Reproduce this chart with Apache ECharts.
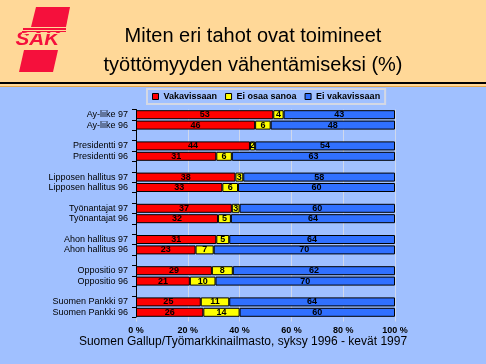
<!DOCTYPE html>
<html><head><meta charset="utf-8">
<script src="https://cdn.jsdelivr.net/npm/echarts@6/dist/echarts.min.js"></script>
<style>html,body{margin:0;padding:0;}#c{width:486px;height:364px;}</style>
</head><body><div id="c"></div>
<script>
const categories = ['Ay-liike 97','Ay-liike 96','Presidentti 97','Presidentti 96','Lipposen hallitus 97','Lipposen hallitus 96','Työnantajat 97','Työnantajat 96','Ahon hallitus 97','Ahon hallitus 96','Oppositio 97','Oppositio 96','Suomen Pankki 97','Suomen Pankki 96'];
const vakavissaan   = [53,46,44,31,38,33,37,32,31,23,29,21,25,26];
const eiOsaaSanoa   = [4,6,2,6,3,6,3,5,5,7,8,10,11,14];
const eiVakavissaan = [43,48,54,63,58,60,60,64,64,70,62,70,64,60];
const seriesNames = ['Vakavissaan','Ei osaa sanoa','Ei vakavissaan'];
const xTicks = [0,20,40,60,80,100];
const title1 = 'Miten eri tahot ovat toimineet';
const title2 = 'työttömyyden vähentämiseksi (%)';
const source = 'Suomen Gallup/Työmarkkinailmasto, syksy 1996 - kevät 1997';

// axis with a blank separator after each pair
const axisCats = [];
const rowIndex = [];
categories.forEach((c,i)=>{
  axisCats.push(c); rowIndex.push(i);
  if (i%2===1 && i<categories.length-1){ axisCats.push(''); rowIndex.push(-1); }
});
const raw = [vakavissaan, eiOsaaSanoa, eiVakavissaan];
const sums = categories.map((_,i)=>raw[0][i]+raw[1][i]+raw[2][i]);
const colors = ['#FF0000','#FFFF00','#3070FF'];
const font = 'Liberation Sans, Arial, sans-serif';

const series = raw.map((arr,s)=>({
  name: seriesNames[s], type:'bar', stack:'t', barWidth:9,
  itemStyle:{color:colors[s], borderColor:'#000', borderWidth:1},
  label:{show:true, position:'inside', color:'#000', fontFamily:font, fontSize:9, fontWeight:'bold',
    formatter:p=>p.data && p.data.raw!=null ? String(p.data.raw) : ''},
  data: rowIndex.map(r=> r<0 ? {value:'-'} : {value: arr[r]/sums[r]*100, raw: arr[r]})
}));

const chart = echarts.init(document.getElementById('c'), null, {renderer:'canvas'});
chart.setOption({
  backgroundColor:'#A0C0FF',
  animation:false,
  color:colors,
  legend:{
    data:seriesNames, left:147, top:89, itemWidth:6, itemHeight:6, itemGap:8,
    padding:[3,5], borderColor:'#D4D8E4', borderWidth:2, icon:'rect',
    itemStyle:{borderColor:'#000', borderWidth:1},
    textStyle:{fontFamily:font, fontSize:9, fontWeight:'bold', color:'#000'}
  },
  grid:{left:136, right:91, top:109.5, bottom:46.5, containLabel:false},
  xAxis:{type:'value', min:0, max:100, interval:20,
    axisLine:{show:false},
    axisTick:{show:true, length:4, lineStyle:{color:'#D0D8EC'}},
    splitLine:{show:true, lineStyle:{color:'#D0D8EC', width:1}},
    axisLabel:{formatter:v=> xTicks.includes(v)? v+' %' : '', fontFamily:font, fontSize:9, fontWeight:'bold', color:'#000', margin:9}
  },
  yAxis:{type:'category', inverse:true, data:axisCats,
    axisLine:{show:true, lineStyle:{color:'#000', width:1}},
    axisTick:{show:true, length:4, interval:0, lineStyle:{color:'#000'}},
    axisLabel:{interval:0, fontFamily:font, fontSize:9, color:'#000', margin:8}
  },
  series:series,
  graphic:[
    {type:'rect', z:-1, shape:{x:0,y:0,width:486,height:82}, style:{fill:'#FFD898'}},
    {type:'rect', shape:{x:0,y:82,width:486,height:2}, style:{fill:'#000'}},
    {type:'rect', shape:{x:0,y:84,width:486,height:2}, style:{fill:'#FFD898'}},
    {type:'rect', shape:{x:0,y:86,width:486,height:1}, style:{fill:'#E8A848'}},
    {type:'polygon', shape:{points:[[36,7],[70,7],[66,27],[31,27]]}, style:{fill:'#F5103C'}},
    {type:'polygon', shape:{points:[[24,50],[58,50],[53,72],[19,72]]}, style:{fill:'#F5103C'}},
    {type:'text', x:44, y:40, scaleX:1.15, originX:44, originY:40, style:{text:'SAK', fill:'#F5103C', font:'italic bold 18px '+font, align:'center', verticalAlign:'middle'}},
    {type:'rect', shape:{x:23,y:28,width:43,height:2}, style:{fill:'#F5103C'}},
    {type:'rect', shape:{x:22,y:30,width:46,height:1}, style:{fill:'#FFD898'}},
    {type:'rect', shape:{x:22,y:31,width:44,height:1}, style:{fill:'#F5103C'}},
    {type:'rect', shape:{x:22,y:33,width:46,height:1}, style:{fill:'#FFD898'}},
    {type:'text', x:253, y:36, style:{text:title1, fill:'#000', font:'20px '+font, align:'center', verticalAlign:'middle'}},
    {type:'text', x:253, y:65, style:{text:title2, fill:'#000', font:'20px '+font, align:'center', verticalAlign:'middle'}},
    {type:'text', x:243, y:342, style:{text:source, fill:'#000', font:'12px '+font, align:'center', verticalAlign:'middle'}}
  ]
});
</script></body></html>
